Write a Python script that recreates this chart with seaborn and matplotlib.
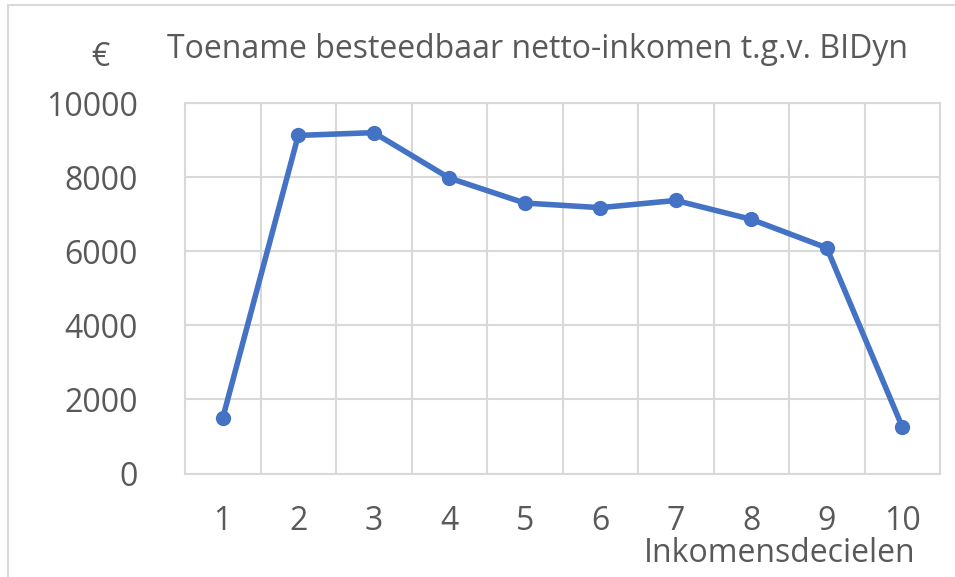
import pandas as pd
import numpy as np
import matplotlib.pyplot as plt
import seaborn as sns
from matplotlib.patches import Rectangle

sns.set_style('white')
plt.rcParams['font.family'] = ['Open Sans', 'DejaVu Sans']

# Данные
decielen = [1, 2, 3, 4, 5, 6, 7, 8, 9, 10]
toename = [1500, 9125, 9200, 7975, 7300, 7175, 7370, 6860, 6090, 1260]
yticks = [0, 2000, 4000, 6000, 8000, 10000]

df = pd.DataFrame({'deciel': decielen, 'toename': toename})

text_color = '#595959'
grid_color = '#D9D9D9'
line_color = '#4472C4'

fig = plt.figure(figsize=(9.55, 5.77), dpi=100)
ax = fig.add_axes([185 / 955, 1 - 473.5 / 577, (940 - 185) / 955, (473.5 - 103) / 577])

sns.lineplot(data=df, x='deciel', y='toename', ax=ax, color=line_color,
             linewidth=4, marker='o', markersize=11, markeredgewidth=0)

ax.set_xlim(0.5, 10.5)
ax.set_ylim(0, 10000)
ax.set_yticks(yticks)
ax.set_yticklabels([str(v) for v in yticks])
ax.set_xticks(decielen)
ax.set_xticklabels([str(v) for v in decielen])

# вертикальные линии сетки между категориями
ax.set_xticks(np.arange(0.5, 11, 1), minor=True)
ax.grid(True, which='minor', axis='x', color=grid_color, linewidth=1.5)
ax.grid(True, which='major', axis='y', color=grid_color, linewidth=1.5)
ax.grid(False, which='major', axis='x')
ax.set_axisbelow(True)

for s in ax.spines.values():
    s.set_color(grid_color)
    s.set_linewidth(1.5)

ax.tick_params(axis='both', which='both', length=0, labelsize=23, labelcolor=text_color)
ax.tick_params(axis='x', pad=23)
ax.tick_params(axis='y', pad=34)
ax.set_xlabel('')
ax.set_ylabel('')

fig.text(537 / 955, 1 - 50 / 577, 'Toename besteedbaar netto-inkomen t.g.v. BIDyn',
         ha='center', va='center', fontsize=23, color=text_color)
fig.text(100 / 955, 1 - 58 / 577, '€', ha='center', va='center', fontsize=23, color=text_color)
fig.text(915 / 955, 1 - 553 / 577, 'Inkomensdecielen', ha='right', va='center',
         fontsize=23, color=text_color)

# рамка диаграммы
fig.patches.append(Rectangle((8 / 955, -0.05), 1.0, 1 - 5 / 577 + 0.05, transform=fig.transFigure,
                             fill=False, edgecolor=grid_color, linewidth=1.5))

plt.savefig('out.png', dpi=100)
